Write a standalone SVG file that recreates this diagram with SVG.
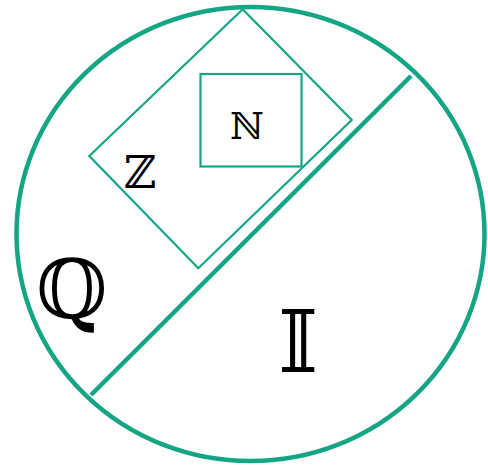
<svg xmlns="http://www.w3.org/2000/svg" width="488" height="465" viewBox="0 0 488 465">
<style>
.g{fill:none;stroke:#13a584}
.t{font-family:"DejaVu Serif","DejaVu Sans",serif;fill:#000;text-anchor:middle}
</style>
<rect width="488" height="465" fill="#fff"/>
<g id="Q-set">
<ellipse class="g" cx="250.5" cy="234" rx="234" ry="227" stroke-width="4.5"/>
<text class="t" x="72" y="318" font-size="82">ℚ</text>
</g>
<g id="connectors">
<line class="g" x1="91" y1="395" x2="411" y2="76" stroke-width="4.5"/>
</g>
<g id="Z-set">
<polygon class="g" points="242.7,9.3 351.7,120 198.3,268.3 89.3,156" stroke-width="2.2"/>
<text class="t" x="140" y="188" font-size="45">ℤ</text>
</g>
<g id="N-set">
<rect class="g" x="200.5" y="74" width="101" height="92.5" stroke-width="2.2"/>
<text class="t" x="247" y="139" font-size="37">ℕ</text>
</g>
<g id="I-set">
<text class="t" x="298" y="371.5" font-size="86">𝕀</text>
</g>
</svg>
